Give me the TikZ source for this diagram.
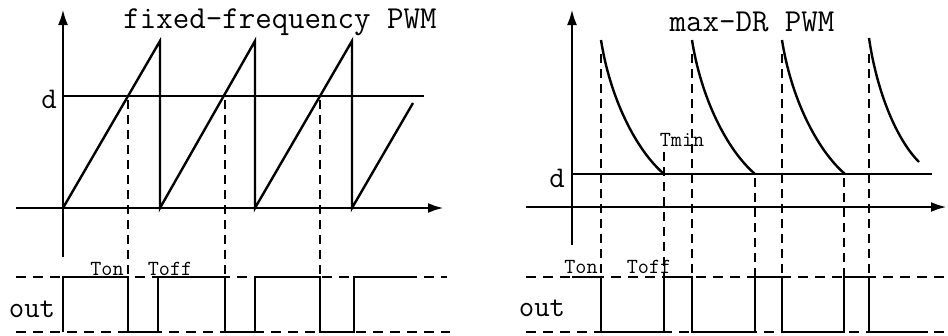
\documentclass[tikz,border=0pt]{standalone}
\usetikzlibrary{arrows.meta}
\tikzset{
  ax/.style={line width=2.8pt,-{Latex[length=16pt,width=10pt]}},
  wave/.style={line width=2.4pt,line join=miter},
  dsh/.style={line width=2.4pt,dash pattern=on 9pt off 6pt},
  hdsh/.style={line width=2.2pt,dash pattern=on 10pt off 7pt},
  big/.style={font=\ttfamily\fontsize{32}{34}\selectfont,inner sep=0pt},
  mid/.style={font=\ttfamily\fontsize{30}{32}\selectfont,inner sep=0pt,anchor=base},
  small/.style={font=\ttfamily\fontsize{21.5}{23}\selectfont,inner sep=0pt,anchor=base}
}
\begin{document}
\begin{tikzpicture}[x=1pt,y=-1pt]
\useasboundingbox (0,0) rectangle (948,335);
% ---------- left panel ----------
\draw[ax] (63,257) -- (63,9);
\draw[ax] (16,208) -- (444,208);
\draw[wave] (63,96) -- (424,96);
\draw[wave] (63,208) -- (160,41) -- (160,208) -- (255,41) -- (255,208) -- (352,41) -- (352,208) -- (413,103);
\foreach \x in {128,225,320} \draw[dsh] (\x,100) -- (\x,277);
\draw[hdsh] (16,277) -- (447,277);
\draw[hdsh] (16,332) -- (450,332);
\draw[wave] (63,332) -- (63,277) -- (128,277) -- (128,332) -- (158,332) -- (158,277) -- (225,277) -- (225,332) -- (255,332) -- (255,277) -- (320,277) -- (320,332) -- (354,332) -- (354,277) -- (413,277);
\node[big] (t1) at (280,22) {fixed-frequency PWM};
\node[mid] (d1) at (49,108) {d};
\node[mid] (o1) at (32,317) {out};
\node[small] (ton1) at (107,275) {Ton};
\node[small] (toff1) at (170,275) {Toff};
% ---------- right panel ----------
\draw[ax] (572,245) -- (572,9);
\draw[ax] (526,207) -- (947,207);
\draw[wave] (572,174) -- (932,174);
\foreach \x in {601,692,782} \draw[wave] (\x,40) .. controls +(9,58) and +(-28,-24) .. ++(63,134);
\draw[wave] (869,38) .. controls +(8,55) and +(-22,-22) .. (919,162);
\foreach \x in {601,692,782,869} \draw[dsh] (\x,54) -- (\x,277);
\draw[dsh] (664,152) -- (664,277);
\foreach \x in {755,844} \draw[dsh] (\x,178) -- (\x,277);
\draw[hdsh] (526,277) -- (948,277);
\draw[hdsh] (526,332) -- (948,332);
\draw[wave] (572,277) -- (601,277) -- (601,332) -- (664,332) -- (664,277) -- (692,277) -- (692,332) -- (755,332) -- (755,277) -- (782,277) -- (782,332) -- (844,332) -- (844,277) -- (869,277) -- (869,332) -- (928,332);
\node[big] (t2) at (752,22) {max-DR PWM};
\node[mid] (d2) at (557,187) {d};
\node[mid] (o2) at (542,316) {out};
\node[small] (ton2) at (581,273) {Ton};
\node[small] (toff2) at (649,273) {Toff};
\node[small] (tmin) at (682,146) {Tmin};
\end{tikzpicture}
\end{document}
